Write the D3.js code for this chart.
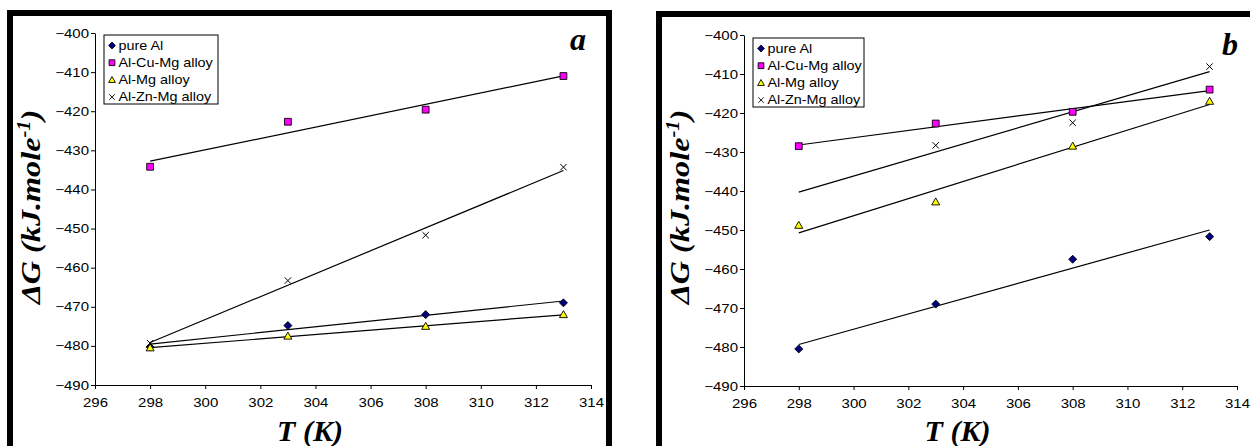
<!DOCTYPE html>
<html>
<head>
<meta charset="utf-8">
<script src="https://cdn.jsdelivr.net/npm/d3@7"></script>
<style>
  html, body { margin: 0; padding: 0; background: #fff; }
  svg { display: block; }
  .tick text { font-family: "Liberation Sans", Arial, sans-serif; font-size: 12.5px; fill: #000; }
  .legend text { font-family: "Liberation Sans", Arial, sans-serif; font-size: 12px; fill: #000; }
  .title { font-family: "Liberation Serif", "Times New Roman", serif; font-weight: bold; font-style: italic; fill: #000; }
</style>
</head>
<body>
<svg id="chart" width="1250" height="446"></svg>
<script>
'use strict';

// temperatures (K)
var temps = [ 298, 303, 308, 313 ];
var seriesNames = [ 'pure Al', 'Al-Cu-Mg alloy', 'Al-Mg alloy', 'Al-Zn-Mg alloy' ];

// panel a, dG in kJ/mole
var aPureAl = [ -480.3, -474.8, -472.0, -469.0 ];
var aAlCuMg = [ -434.2, -422.7, -419.6, -411.0 ];
var aAlMg = [ -480.5, -477.5, -475.0, -472.0 ];
var aAlZnMg = [ -479.3, -463.3, -451.7, -434.3 ];

// panel b
var bPureAl = [ -480.5, -469.0, -457.5, -451.7 ];
var bAlCuMg = [ -428.5, -422.7, -419.7, -414.0 ];
var bAlMg = [ -448.8, -442.8, -428.5, -417.0 ];
var bAlZnMg = [ -440.5, -428.3, -422.5, -408.1 ];
// point with no marker drawn in the original (series, index)
var bHidden = [ [ 3, 0 ] ];

var xTicks = [ 296, 298, 300, 302, 304, 306, 308, 310, 312, 314 ];
var yTicks = [ -490, -480, -470, -460, -450, -440, -430, -420, -410, -400 ];

var styles = [
    { shape: 'diamond', fill: '#000080' },
    { shape: 'square', fill: '#ff00ff' },
    { shape: 'triangle', fill: '#ffff00' },
    { shape: 'cross', fill: 'none' }
];

function markerPath( shape, s ){
    var p = d3.path();
    if ( shape === 'diamond' ){
        p.moveTo( 0, -s ); p.lineTo( s, 0 ); p.lineTo( 0, s ); p.lineTo( -s, 0 ); p.closePath();
    } else if ( shape === 'square' ){
        p.rect( -s * 0.85, -s * 0.85, s * 1.7, s * 1.7 );
    } else if ( shape === 'triangle' ){
        p.moveTo( 0, -s ); p.lineTo( s, s * 0.75 ); p.lineTo( -s, s * 0.75 ); p.closePath();
    } else {
        p.moveTo( -s * 0.8, -s * 0.8 ); p.lineTo( s * 0.8, s * 0.8 );
        p.moveTo( s * 0.8, -s * 0.8 ); p.lineTo( -s * 0.8, s * 0.8 );
    }
    return p.toString();
}

function fit( xs, ys ){
    var mx = d3.mean( xs ), my = d3.mean( ys ), sxy = 0, sxx = 0;
    xs.forEach(function( x, i ){
        sxy += ( x - mx ) * ( ys[i] - my );
        sxx += ( x - mx ) * ( x - mx );
    });
    var k = sxy / sxx;
    return function( x ){ return my + k * ( x - mx ); };
}

function drawPanel( svg, box, data, hidden ){
    var x = d3.scaleLinear().domain( [ 296, 314 ] ).range( [ box.left, box.right ] ),
        y = d3.scaleLinear().domain( [ -490, -400 ] ).range( [ box.bottom, box.top ] ),
        g = svg.append( 'g' );

    // frame
    g.append( 'rect' )
        .attr( 'x', box.frame[0] ).attr( 'y', box.frame[1] )
        .attr( 'width', box.frame[2] ).attr( 'height', box.frame[3] )
        .attr( 'fill', 'none' ).attr( 'stroke', '#000' ).attr( 'stroke-width', 6 );

    var xAxis = g.append( 'g' )
        .attr( 'transform', 'translate(0,' + box.bottom + ')' )
        .call( d3.axisBottom( x ).tickValues( xTicks ).tickSize( 4 ).tickSizeOuter( 0 ) );
    var yAxis = g.append( 'g' )
        .attr( 'transform', 'translate(' + box.left + ',0)' )
        .call( d3.axisLeft( y ).tickValues( yTicks ).tickSize( 4 ).tickSizeOuter( 0 ) );

    [ xAxis, yAxis ].forEach(function( a ){
        a.select( '.domain' ).attr( 'stroke', '#000' );
        a.selectAll( '.tick line' ).attr( 'stroke', '#000' );
    });
    xAxis.selectAll( '.tick text' ).attr( 'y', 13 ).attr( 'transform', 'scale(1.2,1)' );
    yAxis.selectAll( '.tick text' ).attr( 'x', -5 ).attr( 'transform', 'scale(1.2,1)' );

    // trend lines
    data.forEach(function( vals ){
        var f = fit( temps, vals );
        g.append( 'line' )
            .attr( 'x1', x( temps[0] ) ).attr( 'y1', y( f( temps[0] ) ) )
            .attr( 'x2', x( temps[temps.length - 1] ) ).attr( 'y2', y( f( temps[temps.length - 1] ) ) )
            .attr( 'stroke', '#000' ).attr( 'stroke-width', 1.2 );
    });

    // markers
    data.forEach(function( vals, si ){
        var st = styles[si];
        vals.forEach(function( v, i ){
            var skip = ( hidden || [] ).some(function( h ){ return h[0] === si && h[1] === i; });
            if ( skip ){ return; }
            g.append( 'path' )
                .attr( 'd', markerPath( st.shape, 4 ) )
                .attr( 'transform', 'translate(' + x( temps[i] ) + ',' + y( v ) + ')' )
                .attr( 'fill', st.fill )
                .attr( 'stroke', '#000' ).attr( 'stroke-width', st.shape === 'cross' ? 1 : 0.9 );
        });
    });

    // legend
    var lg = g.append( 'g' ).attr( 'class', 'legend' )
        .attr( 'transform', 'translate(' + box.legend[0] + ',' + box.legend[1] + ')' );
    lg.append( 'rect' )
        .attr( 'width', box.legend[2] ).attr( 'height', box.legend[3] )
        .attr( 'fill', '#fff' ).attr( 'stroke', '#000' ).attr( 'stroke-width', 1 );
    seriesNames.forEach(function( name, i ){
        var ry = 10.5 + i * 17.2;
        lg.append( 'path' )
            .attr( 'd', markerPath( styles[i].shape, 3.4 ) )
            .attr( 'transform', 'translate(8,' + ry + ')' )
            .attr( 'fill', styles[i].fill ).attr( 'stroke', '#000' ).attr( 'stroke-width', 0.9 );
        lg.append( 'text' )
            .attr( 'x', 12 ).attr( 'y', ry + 4.3 )
            .attr( 'transform', 'scale(1.2,1)' )
            .text( name );
    });

    // axis titles
    g.append( 'text' ).attr( 'class', 'title' )
        .attr( 'x', ( box.left + box.right ) / 2 - 33 ).attr( 'y', 441 )
        .attr( 'text-anchor', 'middle' ).attr( 'font-size', 30 )
        .text( 'T (K)' );

    var yt = g.append( 'text' ).attr( 'class', 'title' )
        .attr( 'transform', 'translate(' + box.ytitle[0] + ',' + box.ytitle[1] + ') rotate(-90) scale(1.15,1)' )
        .attr( 'text-anchor', 'middle' ).attr( 'font-size', 28 );
    yt.append( 'tspan' ).text( '\u0394G (kJ.mole' );
    yt.append( 'tspan' ).attr( 'dy', -10 ).attr( 'font-size', 18 ).text( '-1' );
    yt.append( 'tspan' ).attr( 'dy', 10 ).text( ')' );

    g.append( 'text' ).attr( 'class', 'title' )
        .attr( 'x', box.tag[0] ).attr( 'y', box.tag[1] )
        .attr( 'text-anchor', 'middle' ).attr( 'font-size', 32 )
        .text( box.tag[2] );
}

var svg = d3.select( '#chart' );

drawPanel( svg, {
    left: 95, right: 591, top: 33, bottom: 385,
    frame: [ 10, 13, 599, 445 ],
    legend: [ 104, 35, 114, 69 ],
    ytitle: [ 40, 207 ],
    tag: [ 578, 50, 'a' ]
}, [ aPureAl, aAlCuMg, aAlMg, aAlZnMg ] );

drawPanel( svg, {
    left: 744, right: 1237, top: 35, bottom: 386,
    frame: [ 659, 14, 620, 445 ],
    legend: [ 753, 38, 111, 69 ],
    ytitle: [ 689, 207 ],
    tag: [ 1230, 55, 'b' ]
}, [ bPureAl, bAlCuMg, bAlMg, bAlZnMg ], bHidden );
</script>
</body>
</html>
